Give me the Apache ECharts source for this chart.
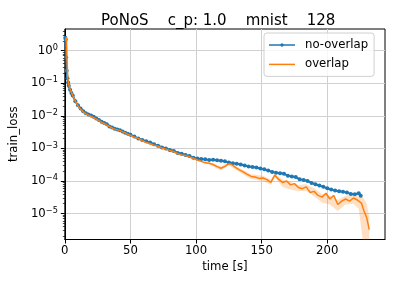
<!DOCTYPE html>
<html><head><meta charset="utf-8">
<script src="https://cdn.jsdelivr.net/npm/echarts@6/dist/echarts.min.js"></script>
<style>html,body{margin:0;padding:0;background:#fff}#c{width:399px;height:285px}</style>
</head><body><div id="c"></div>
<script>
const titleText = 'PoNoS    c_p: 1.0    mnist    128';
const seriesNames = ['no-overlap', 'overlap'];
const xTicks = [0, 50, 100, 150, 200];
const yTicks = [1e-5, 1e-4, 1e-3, 1e-2, 1e-1, 1];

const blueT = [0.3,0.7,1.0,1.4,2.0,2.5,3,4,5,6,8,10,12,14,16,18,20,22,24,26,28,30,32,34,36,38,40,42,44,46,48,50,53,56,59,62,65,68,71,74,77,80,83,86,89,92,95,98,101,104,107,110,113,116,119,122,125,128,131,134,137,140,143,146,149,152,155,158,161,164,167,170,173,176,179,182,185,188,191,194,197,200,203,206,209,212,215,218,221,224,225.5];
const blueV = [2.5,2.2,0.63,0.24,0.141,0.105,0.083,0.063,0.050,0.042,0.028,0.021,0.0166,0.0138,0.0120,0.0110,0.0102,0.0093,0.0083,0.0074,0.0066,0.0060,0.0055,0.0047,0.0044,0.0040,0.0038,0.0036,0.0033,0.0030,0.0028,0.0026,0.0023,0.0020,0.0018,0.00166,0.00151,0.00135,0.00120,0.00107,0.00100,8.9e-4,8.3e-4,7.2e-4,6.8e-4,6.3e-4,5.8e-4,5.2e-4,4.9e-4,4.7e-4,4.6e-4,4.4e-4,4.5e-4,4.3e-4,4.2e-4,4.0e-4,3.7e-4,3.5e-4,3.4e-4,3.2e-4,3.0e-4,2.8e-4,2.7e-4,2.6e-4,2.4e-4,2.3e-4,2.1e-4,1.9e-4,1.8e-4,1.74e-4,1.66e-4,1.45e-4,1.38e-4,1.32e-4,1.12e-4,1.07e-4,1.0e-4,8.7e-5,7.9e-5,7.2e-5,6.6e-5,6.0e-5,5.5e-5,5.1e-5,4.8e-5,4.7e-5,4.4e-5,4.0e-5,3.9e-5,4.2e-5,3.5e-5];

const orangeT = [0.5,1.2,1.7,2.2,2.7,3.5,4.5,6,8,10,12,14,16,18,20,22,24,26,28,30,32,34,36,38,40,42,44,46,48,50,53,56,59,62,65,68,71,74,77,80,83,86,89,92,95,98,101,104,107,110,113,116,119,122,125,127,130,133,136,139,142,145,148,151,154,157,160,163,166,169,172,175,178,181,184,187,190,193,196,199,202,205,208,211,214,217,220,223,226,228,230,232];
const orangeV = [2.0,2.6,0.5,0.158,0.105,0.076,0.058,0.042,0.028,0.020,0.0158,0.0132,0.0115,0.0105,0.0095,0.0087,0.0079,0.0071,0.0063,0.0058,0.0052,0.0047,0.0042,0.0039,0.0037,0.0035,0.0032,0.0030,0.0027,0.0025,0.0022,0.0020,0.00174,0.00151,0.00138,0.00126,0.00117,0.00102,9.5e-4,8.7e-4,7.9e-4,6.9e-4,6.3e-4,6.0e-4,5.5e-4,5.0e-4,4.4e-4,4.0e-4,3.6e-4,3.5e-4,3.2e-4,2.75e-4,2.45e-4,2.8e-4,3.4e-4,3.2e-4,2.6e-4,2.2e-4,1.9e-4,1.6e-4,1.38e-4,1.32e-4,1.2e-4,1.23e-4,1.1e-4,9.1e-5,1.5e-4,1.12e-4,8.9e-5,1.0e-4,7.6e-5,8.3e-5,6.3e-5,5.8e-5,6.6e-5,4.4e-5,4.8e-5,3.6e-5,3.2e-5,4.2e-5,2.8e-5,3.6e-5,1.9e-5,2.4e-5,2.8e-5,2.4e-5,3.0e-5,2.6e-5,2.1e-5,1.2e-5,7.6e-6,3.2e-6];

const bandT  = [0.5,1.2,2.2,4.5,10,20,30,40,50,60,65,77,90,100,110,119,125,133,142,151,157,160,166,172,178,184,190,196,202,208,214,220,224,227,230,232];
const bandLo = [1.8,2.3,0.14,0.053,0.018,0.0088,0.0053,0.0034,0.0023,0.00155,0.00126,8.5e-4,5.8e-4,4.2e-4,3.2e-4,2.1e-4,3.0e-4,1.9e-4,1.15e-4,1.0e-4,7.5e-5,1.3e-4,6.5e-5,5.5e-5,4.8e-5,5.0e-5,3.4e-5,2.2e-5,1.9e-5,1.2e-5,1.9e-5,2.0e-5,1.4e-5,1.6e-6,1.6e-6,1.6e-6];
const bandHi = [2.2,2.9,0.18,0.063,0.022,0.0102,0.0063,0.0040,0.0027,0.00185,0.00152,1.1e-3,6.8e-4,4.8e-4,3.8e-4,2.8e-4,3.8e-4,2.5e-4,1.6e-4,1.45e-4,1.1e-4,1.7e-4,1.1e-4,9.5e-5,7.5e-5,8.0e-5,6.0e-5,4.0e-5,3.6e-5,2.6e-5,3.5e-5,3.8e-5,3.6e-5,3.3e-5,2.0e-5,8e-6];

const xMin = 0, xMax = 244, yMin = 1.6e-6, yMax = 4.6;
const minorTicks = [];
for (let d = -6; d <= 0; d++) for (let k = 2; k <= 9; k++) { const v = k * Math.pow(10, d); if (v > yMin && v < yMax) minorTicks.push(v); }

const FONT = 'DejaVu Sans';
const zip = (a, b) => a.map((t, i) => [t, b[i]]);
function supFmt(v) {
  const e = Math.round(Math.log10(v));
  return '10{sup|' + (e < 0 ? '\u2212' + (-e) : String(e)) + '}';
}
const chart = echarts.init(document.getElementById('c'), null, {renderer: 'canvas'});
chart.setOption({
  animation: false,
  backgroundColor: '#fff',
  title: {text: titleText, left: 96, top: 9, textStyle: {fontFamily: FONT, fontSize: 15, fontWeight: 'normal', color: '#000'}},
  grid: {left: 64, right: 14, top: 29, bottom: 45.5, show: true, borderColor: '#000', borderWidth: 1, backgroundColor: 'transparent'},
  legend: {
    orient: 'vertical', left: 264, top: 33, padding: [5, 6, 5, 5], itemGap: 5.4,
    itemWidth: 26, itemHeight: 3.4,
    borderColor: '#d0d0d0', borderWidth: 1, borderRadius: 3, backgroundColor: 'rgba(255,255,255,0.8)',
    textStyle: {fontFamily: FONT, fontSize: 11.7, color: '#000', lineHeight: 14, padding: [0, 0, 0, 5]},
    data: [
      {name: seriesNames[0], icon: 'path://M0,0.95H26V2.45H0Z M11.3,1.7A1.7,1.7 0 1,1 14.7,1.7A1.7,1.7 0 1,1 11.3,1.7Z M13,0L13,0 M13,3.4L13,3.4'},
      {name: seriesNames[1], icon: 'path://M0,0.95H26V2.45H0Z M13,0L13,0 M13,3.4L13,3.4'}
    ]
  },
  xAxis: {
    type: 'value', min: xMin, max: xMax, interval: 50,
    name: 'time [s]', nameLocation: 'middle', nameGap: 20,
    nameTextStyle: {fontFamily: FONT, fontSize: 11.7, color: '#000'},
    axisLine: {show: true, onZero: false, lineStyle: {color: '#000', width: 1}},
    axisTick: {show: true, length: 4, lineStyle: {color: '#000'}, customValues: xTicks},
    axisLabel: {fontFamily: FONT, fontSize: 11.7, color: '#000', margin: 5, customValues: xTicks},
    splitLine: {show: true, lineStyle: {color: '#d0d0d0', width: 1}}
  },
  yAxis: [{
    type: 'log', logBase: 10, min: yMin, max: yMax,
    name: 'train_loss', nameLocation: 'middle', nameGap: 35,
    nameTextStyle: {fontFamily: FONT, fontSize: 11.7, color: '#000'},
    axisLine: {show: true, lineStyle: {color: '#000', width: 1}},
    axisTick: {show: true, length: 4, lineStyle: {color: '#000'}, customValues: yTicks},
    axisLabel: {
      fontFamily: FONT, fontSize: 11.7, color: '#000', margin: 7, customValues: yTicks,
      formatter: supFmt,
      rich: {sup: {fontFamily: FONT, fontSize: 8.2, color: '#000', verticalAlign: 'bottom', padding: [0, 0, 6, 0]}}
    },
    splitLine: {show: true, lineStyle: {color: '#d0d0d0', width: 1}}
  }, {
    type: 'log', logBase: 10, min: yMin, max: yMax, position: 'left',
    axisLine: {show: false},
    axisTick: {show: true, length: 2, lineStyle: {color: '#000', width: 0.7}, customValues: minorTicks},
    axisLabel: {show: false},
    splitLine: {show: false}
  }],
  series: [
    {
      type: 'custom', name: 'band', silent: true, z: 1, yAxisIndex: 0,
      data: [[bandT[0], bandHi[0]]],
      renderItem: function (params, api) {
        const up = bandT.map((t, i) => api.coord([t, bandHi[i]]));
        const lo = bandT.map((t, i) => api.coord([t, bandLo[i]])).reverse();
        return {type: 'polygon', shape: {points: up.concat(lo)}, style: {fill: 'rgba(255,127,14,0.25)', stroke: 'none'}};
      }
    },
    {
      type: 'line', name: 'no-overlap', data: zip(blueT, blueV), z: 3,
      symbol: 'circle', symbolSize: 4, showSymbol: true,
      lineStyle: {color: '#1f77b4', width: 2}, itemStyle: {color: '#1f77b4'}
    },
    {
      type: 'line', name: 'overlap', data: zip(orangeT, orangeV), z: 4,
      symbol: 'none', showSymbol: false,
      lineStyle: {color: '#ff7f0e', width: 1.5}, itemStyle: {color: '#ff7f0e'}
    }
  ]
});
</script></body></html>
